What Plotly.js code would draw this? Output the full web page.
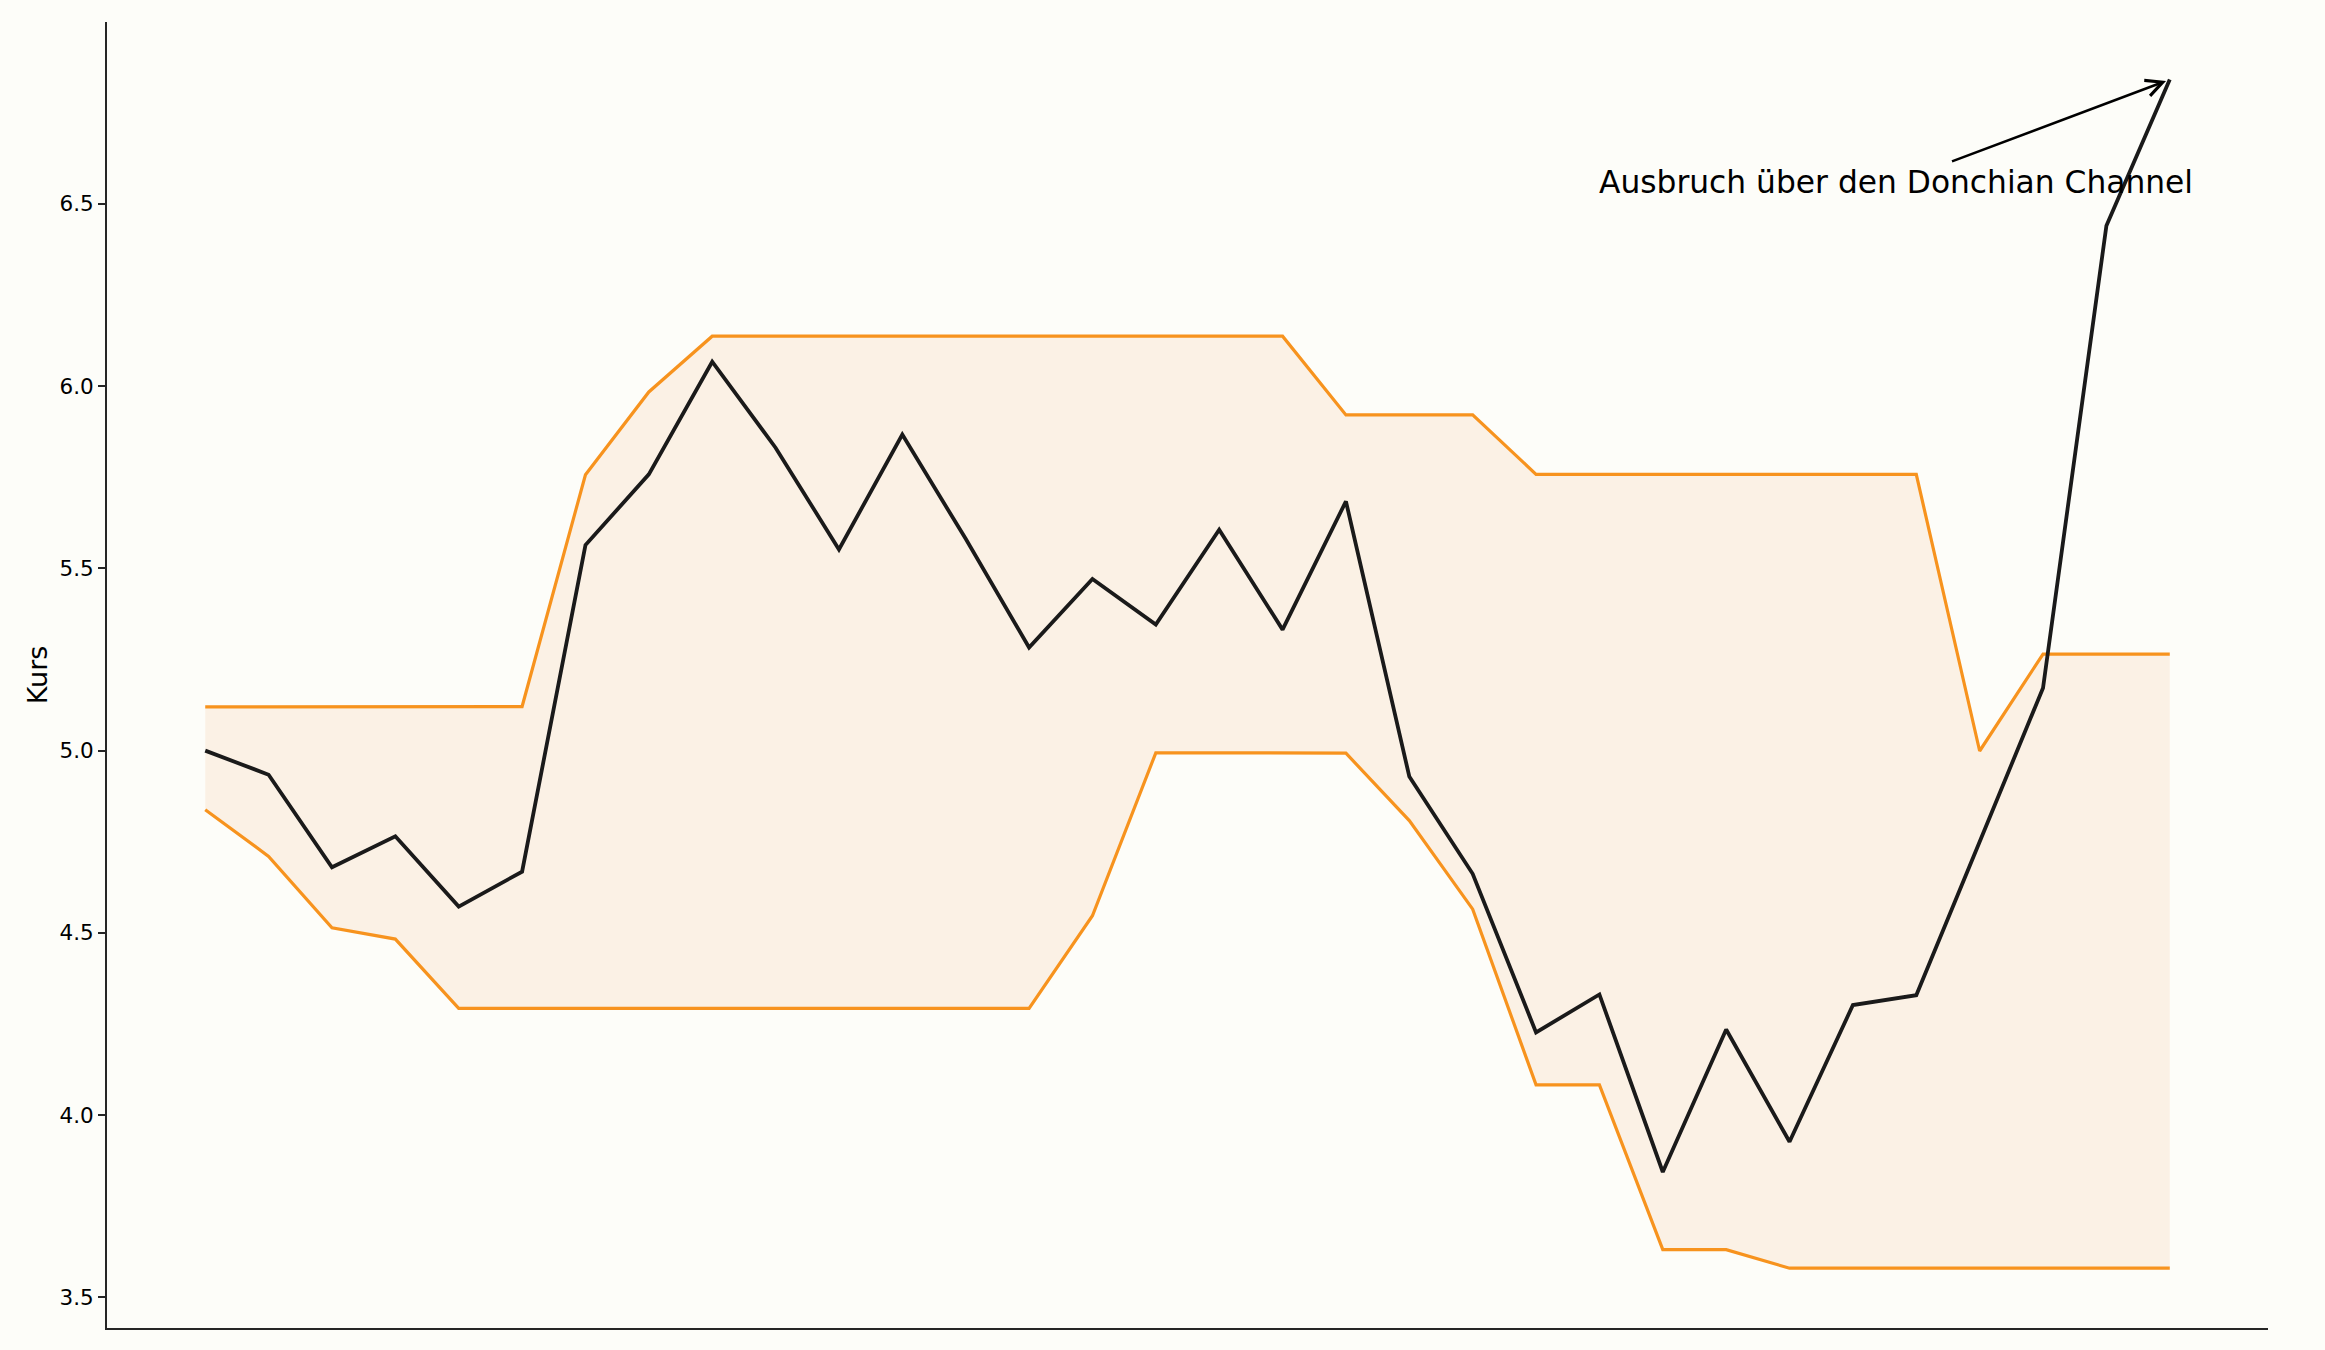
<!DOCTYPE html>
<html>
<head>
<meta charset="utf-8">
<script src="https://cdn.plot.ly/plotly-3.0.1.min.js"></script>
<style>
  html, body { margin: 0; padding: 0; background: #fdfdf9; }
  #chart { width: 2325px; height: 1350px; }
</style>
</head>
<body>
<div id="chart"></div>
<script>
// Donchian channel around a price series, one value per period (index 0..31)
const periods = [...Array(32).keys()];

const kurs = [
  5.00, 4.934, 4.680, 4.765, 4.572, 4.668, 5.564, 5.758, 6.067, 5.831, 5.552,
  5.867, 5.581, 5.283, 5.471, 5.346, 5.606, 5.332, 5.684, 4.929, 4.662, 4.227,
  4.331, 3.844, 4.235, 3.927, 4.302, 4.329, 4.750, 5.172, 6.440, 6.841,
];

const oberesBand = [
  5.120, 5.120, 5.120, 5.120, 5.120, 5.121, 5.757, 5.984, 6.137, 6.137, 6.137,
  6.137, 6.137, 6.137, 6.137, 6.137, 6.137, 6.137, 5.921, 5.921, 5.921, 5.758,
  5.758, 5.758, 5.758, 5.758, 5.758, 5.758, 4.999, 5.265, 5.265, 5.265,
];

const unteresBand = [
  4.838, 4.710, 4.514, 4.483, 4.293, 4.293, 4.293, 4.293, 4.293, 4.293, 4.293,
  4.293, 4.293, 4.293, 4.547, 4.994, 4.994, 4.994, 4.993, 4.808, 4.565, 4.083,
  4.083, 3.631, 3.631, 3.580, 3.580, 3.580, 3.580, 3.580, 3.580, 3.580,
];

const ORANGE = "#f7931e";
const FONT = "DejaVu Sans, sans-serif";

const traces = [
  {
    x: periods,
    y: unteresBand,
    type: "scatter",
    mode: "lines",
    line: { color: ORANGE, width: 3.2 },
    hoverinfo: "skip",
  },
  {
    x: periods,
    y: oberesBand,
    type: "scatter",
    mode: "lines",
    fill: "tonexty",
    fillcolor: "#fbf1e5",
    line: { color: ORANGE, width: 3.2 },
    hoverinfo: "skip",
  },
  {
    x: periods,
    y: kurs,
    type: "scatter",
    mode: "lines",
    line: { color: "#1a1a1a", width: 3.8 },
  },
];

const last = kurs.length - 1;

const layout = {
  width: 2325,
  height: 1350,
  margin: { l: 107, r: 57, t: 22, b: 22 },
  paper_bgcolor: "#fdfdf9",
  plot_bgcolor: "#fdfdf9",
  font: { family: FONT, color: "#000000" },
  showlegend: false,
  xaxis: {
    range: [-1.55, 32.55],
    showgrid: false,
    zeroline: false,
    showticklabels: false,
    ticks: "",
    showline: true,
    linecolor: "#262626",
    linewidth: 2,
  },
  yaxis: {
    range: [3.416, 6.999],
    tick0: 3.5,
    dtick: 0.5,
    tickformat: ".1f",
    showgrid: false,
    zeroline: false,
    ticks: "outside",
    ticklen: 7,
    tickwidth: 2,
    tickcolor: "#262626",
    tickfont: { size: 21.5, family: FONT },
    showline: true,
    linecolor: "#262626",
    linewidth: 2,
    title: { text: "Kurs", font: { size: 27, family: FONT }, standoff: 4 },
  },
  annotations: [
    {
      x: 26.68,
      y: 6.561,
      xref: "x",
      yref: "y",
      text: "Ausbruch über den Donchian Channel",
      showarrow: false,
      font: { size: 31.3, family: FONT, color: "#000000" },
      xanchor: "center",
      yanchor: "middle",
    },
    {
      x: periods[last],
      y: kurs[last],
      xref: "x",
      yref: "y",
      ax: 27.54,
      ay: 6.615,
      axref: "x",
      ayref: "y",
      text: "",
      showarrow: true,
      arrowhead: 5,
      arrowsize: 1.3,
      arrowwidth: 2.5,
      arrowcolor: "#000000",
      standoff: 4,
    },
  ],
};

Plotly.newPlot("chart", traces, layout, { displayModeBar: false, staticPlot: true });
</script>
</body>
</html>
